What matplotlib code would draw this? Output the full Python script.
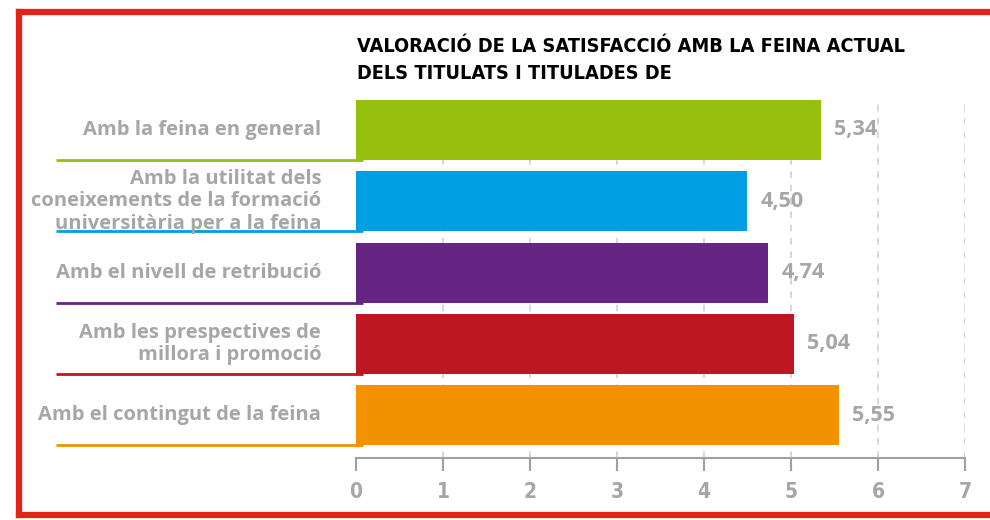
import numpy as np
import matplotlib.pyplot as plt
from matplotlib.lines import Line2D

categories = [
    'Amb la feina en general',
    'Amb la utilitat dels\nconeixements de la formació\nuniversitària per a la feina',
    'Amb el nivell de retribució',
    'Amb les prespectives de\nmillora i promoció',
    'Amb el contingut de la feina',
]
values = [5.34, 4.50, 4.74, 5.04, 5.55]
colors = ['#97bf0d', '#009fe3', '#662483', '#be1622', '#f39200']
title = 'VALORACIÓ DE LA SATISFACCIÓ AMB LA FEINA ACTUAL\nDELS TITULATS I TITULADES DE'

GRAY = '#a6a6a6'
LABEL_FONT = ['Open Sans', 'DejaVu Sans']
NARROW_FONT = ['DejaVu Sans']

fig = plt.figure(figsize=(9.9, 5.2), dpi=100)
ax = fig.add_axes([0.3596, 0.1192, 0.6151, 0.6885])

y = np.arange(len(categories))
bar_h = 0.84
ax.barh(y, values, height=bar_h, color=colors, zorder=3)

ax.set_xlim(0, 7)
ax.set_ylim(4.6, -0.42)

# dashed vertical gridlines
for xv in range(1, 8):
    ax.axvline(xv, color='#d0d0d0', lw=1.2, ls=(0, (4, 4)), zorder=1)

# category labels with coloured underline
for yi, lab, c in zip(y, categories, colors):
    ax.text(-0.40, yi, lab, ha='right', va='center', fontsize=14.5,
            fontweight='bold', color=GRAY, family=LABEL_FONT,
            linespacing=1.15, clip_on=False)
    ax.plot([-3.45, 0.08], [yi + bar_h / 2, yi + bar_h / 2], color=c,
            lw=2, clip_on=False, zorder=2, solid_capstyle='butt')

# value labels
for yi, v in zip(y, values):
    ax.text(v + 0.15, yi, f'{v:.2f}'.replace('.', ','), ha='left',
            va='center', fontsize=15.5, fontweight='bold', color=GRAY,
            family=LABEL_FONT)

for s in ['top', 'right', 'left']:
    ax.spines[s].set_visible(False)
ax.spines['bottom'].set_color('#a0a0a0')
ax.spines['bottom'].set_linewidth(1.5)
ax.set_yticks([])
ax.set_xticks(range(0, 8))
ax.tick_params(axis='x', direction='out', length=9, width=1.5,
               color='#a0a0a0', labelcolor=GRAY, labelsize=15, pad=8)
for t in ax.get_xticklabels():
    t.set_family(NARROW_FONT)
    t.set_fontstretch('condensed')
    t.set_fontweight('bold')

fig.text(0.3606, 0.928, title, ha='left', va='top', fontsize=14.3,
         fontweight='bold', color='black', family=NARROW_FONT,
         fontstretch='condensed', linespacing=1.5)

# red frame (open on the right side)
red = '#e2231a'
fig.add_artist(Line2D([19 / 990, 19 / 990], [1 - 11.5 / 520, 1 - 514.5 / 520],
                      color=red, lw=4.5, transform=fig.transFigure,
                      solid_capstyle='projecting'))
fig.add_artist(Line2D([19 / 990, 1.0], [1 - 11.5 / 520, 1 - 11.5 / 520],
                      color=red, lw=4.5, transform=fig.transFigure))
fig.add_artist(Line2D([19 / 990, 1.0], [1 - 514.5 / 520, 1 - 514.5 / 520],
                      color=red, lw=4.5, transform=fig.transFigure))

fig.savefig('out.png', dpi=100)
